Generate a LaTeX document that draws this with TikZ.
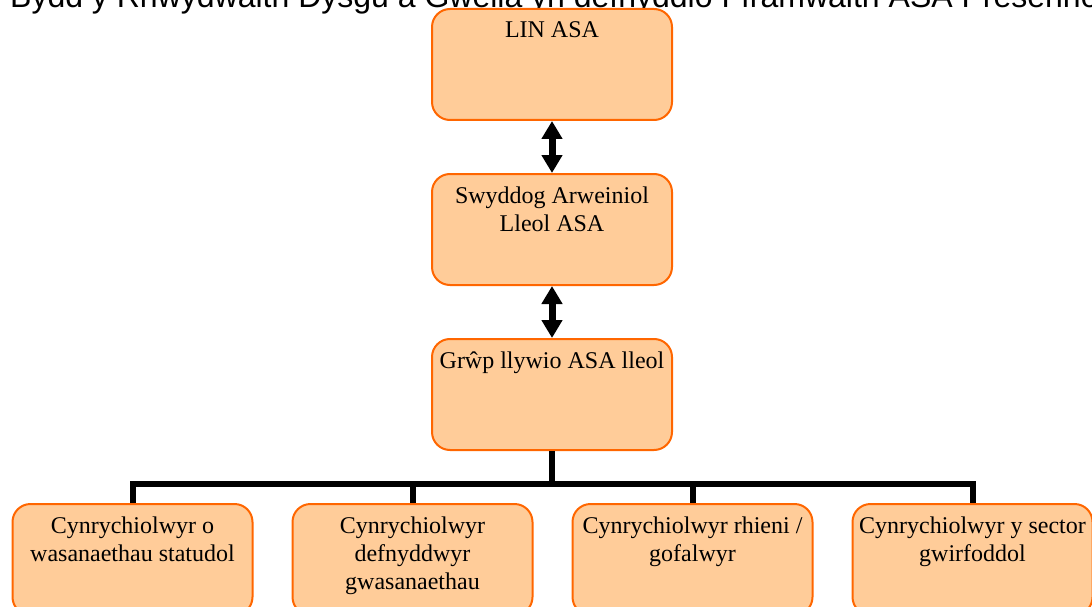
\documentclass[tikz,border=0pt]{standalone}
\usepackage{fontspec}
\setmainfont{Liberation Serif}
\newfontfamily\titlefont{Liberation Sans}
\usetikzlibrary{arrows.meta}
\definecolor{boxfill}{HTML}{FFCC99}
\definecolor{boxline}{HTML}{FF6600}
\newcommand{\boxtext}[1]{\parbox[c][111pt][t]{238pt}{\centering\fontsize{24}{28}\selectfont\rule{0pt}{29pt}#1\par}}
\tikzset{
  orgbox/.style={draw=boxline, fill=boxfill, line width=2pt, rounded corners=18pt,
    minimum width=240pt, minimum height=111pt, inner sep=0pt, anchor=north},
  dblarrow/.style={line width=7pt, {Triangle[length=18pt,width=20pt]}-{Triangle[length=18pt,width=20pt]}},
  bus/.style={line width=6pt, line join=miter},
  titletext/.style={font=\titlefont\fontsize{32}{38}\selectfont, anchor=base west, inner sep=0pt}
}
\begin{document}
\begin{tikzpicture}[x=1pt,y=-1pt]
\useasboundingbox (0,0) rectangle (1092,607);
\clip (0,0) rectangle (1092,607);
\node[titletext] (title) at (10,7.5) {Bydd y Rhwydwaith Dysgu a Gwella yn defnyddio Fframwaith ASA Presennol};
\node[orgbox] (b1) at (552,8) {\boxtext{LIN ASA}};
\node[orgbox] (b2) at (552,173) {\boxtext{Swyddog Arweiniol\\Lleol ASA}};
\node[orgbox] (b3) at (552,338) {\boxtext{Grŵp llywio ASA lleol}};
\node[orgbox] (c1) at (132.5,503) {\boxtext{Cynrychiolwyr o\\wasanaethau statudol}};
\node[orgbox] (c2) at (412.5,503) {\boxtext{Cynrychiolwyr\\defnyddwyr\\gwasanaethau}};
\node[orgbox] (c3) at (692.5,503) {\boxtext{Cynrychiolwyr rhieni /\\gofalwyr}};
\node[orgbox] (c4) at (972.5,503) {\boxtext{Cynrychiolwyr y sector\\gwirfoddol}};
\draw[dblarrow] (b1.south) -- (b2.north);
\draw[dblarrow] (b2.south) -- (b3.north);
\coordinate (jn) at (552,484);
\draw[bus] (b3.south) -- (jn);
\draw[bus] (c1.north) |- (jn) -| (c4.north);
\draw[bus] (c2.north) -- (c2.north |- jn);
\draw[bus] (c3.north) -- (c3.north |- jn);
\end{tikzpicture}
\end{document}
